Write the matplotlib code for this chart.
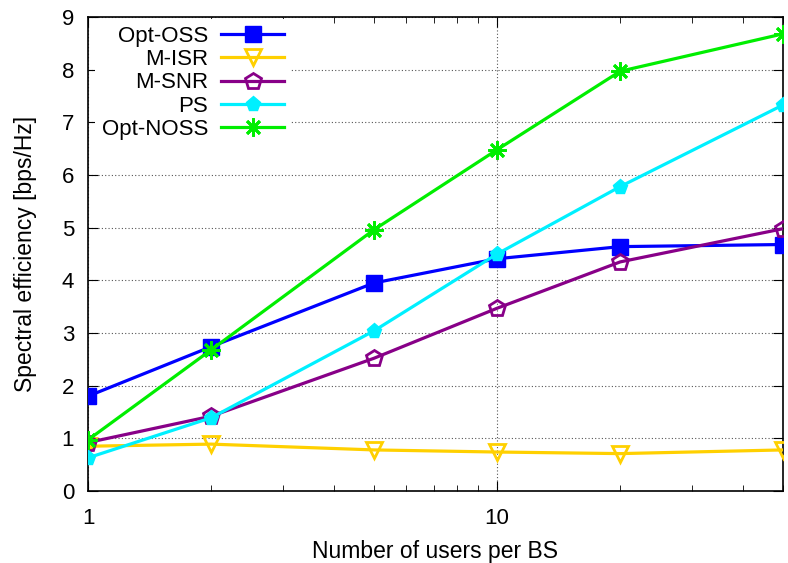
import matplotlib
matplotlib.use("Agg")
import matplotlib.pyplot as plt
from matplotlib.ticker import FixedLocator, NullFormatter

plt.rcParams["font.family"] = ["Liberation Sans", "DejaVu Sans"]

users = [1, 2, 5, 10, 20, 50]
opt_oss = [1.80, 2.74, 3.95, 4.41, 4.64, 4.68]
m_isr = [0.85, 0.89, 0.78, 0.74, 0.71, 0.78]
m_snr = [0.92, 1.42, 2.52, 3.47, 4.35, 4.98]
ps = [0.63, 1.39, 3.04, 4.50, 5.78, 7.33]
opt_noss = [0.97, 2.68, 4.96, 6.48, 7.97, 8.68]

fig = plt.figure(figsize=(7.88, 5.63), dpi=100)
ax = fig.add_axes([88 / 788, 1 - 491 / 563, 695 / 788, 474 / 563])

lw = 2.3
ax.plot(users, opt_oss, color="#0000ff", lw=lw, marker="s", ms=11,
        label="Opt-OSS", zorder=3)
ax.plot(users, m_isr, color="#ffd000", lw=lw, marker="v", ms=12,
        mfc="none", mew=2, label="M-ISR", zorder=3)
ax.plot(users, m_snr, color="#880088", lw=lw, marker="p", ms=12,
        mfc="none", mew=2, label="M-SNR", zorder=3)
ax.plot(users, ps, color="#00f0ff", lw=lw, marker="p", ms=11,
        label="PS", zorder=3)
ax.plot(users, opt_noss, color="#00ee00", lw=lw, marker=(8, 2, 0), ms=13,
        mew=2, label="Opt-NOSS", zorder=3)

ax.set_xscale("log")
ax.set_xlim(1, 50)
ax.set_ylim(0, 9)
ax.xaxis.set_major_locator(FixedLocator([1, 10]))
ax.xaxis.set_minor_locator(FixedLocator([2, 3, 4, 5, 6, 7, 8, 9, 20, 30, 40, 50]))
ax.xaxis.set_minor_formatter(NullFormatter())
ax.set_xticklabels(["1", "10"])
ax.set_yticks(range(10))

ax.tick_params(which="both", direction="in", top=True, right=True, labelsize=16)
ax.tick_params(which="major", length=7)
ax.tick_params(which="minor", length=4)
ax.tick_params(axis="x", pad=12)
ax.tick_params(axis="y", pad=10)
for s in ax.spines.values():
    s.set_linewidth(1.2)
ax.grid(True, which="major", ls=(0, (1, 2)), color="#555555", lw=0.8)

ax.set_xlabel("Number of users per BS", fontsize=16.5, labelpad=8)
ax.set_ylabel("Spectral efficiency [bps/Hz]", fontsize=16.5, labelpad=18)

leg = ax.legend(loc="upper left", markerfirst=False, frameon=True, fontsize=16,
                handlelength=2.8, handletextpad=0.6, borderaxespad=0.1,
                labelspacing=0.1, borderpad=0.3,
                bbox_to_anchor=(0.007, 1.0), fancybox=False)
leg.get_frame().set_facecolor("white")
leg.get_frame().set_edgecolor("none")
leg.get_frame().set_alpha(1)

fig.savefig("out.png", dpi=100)
